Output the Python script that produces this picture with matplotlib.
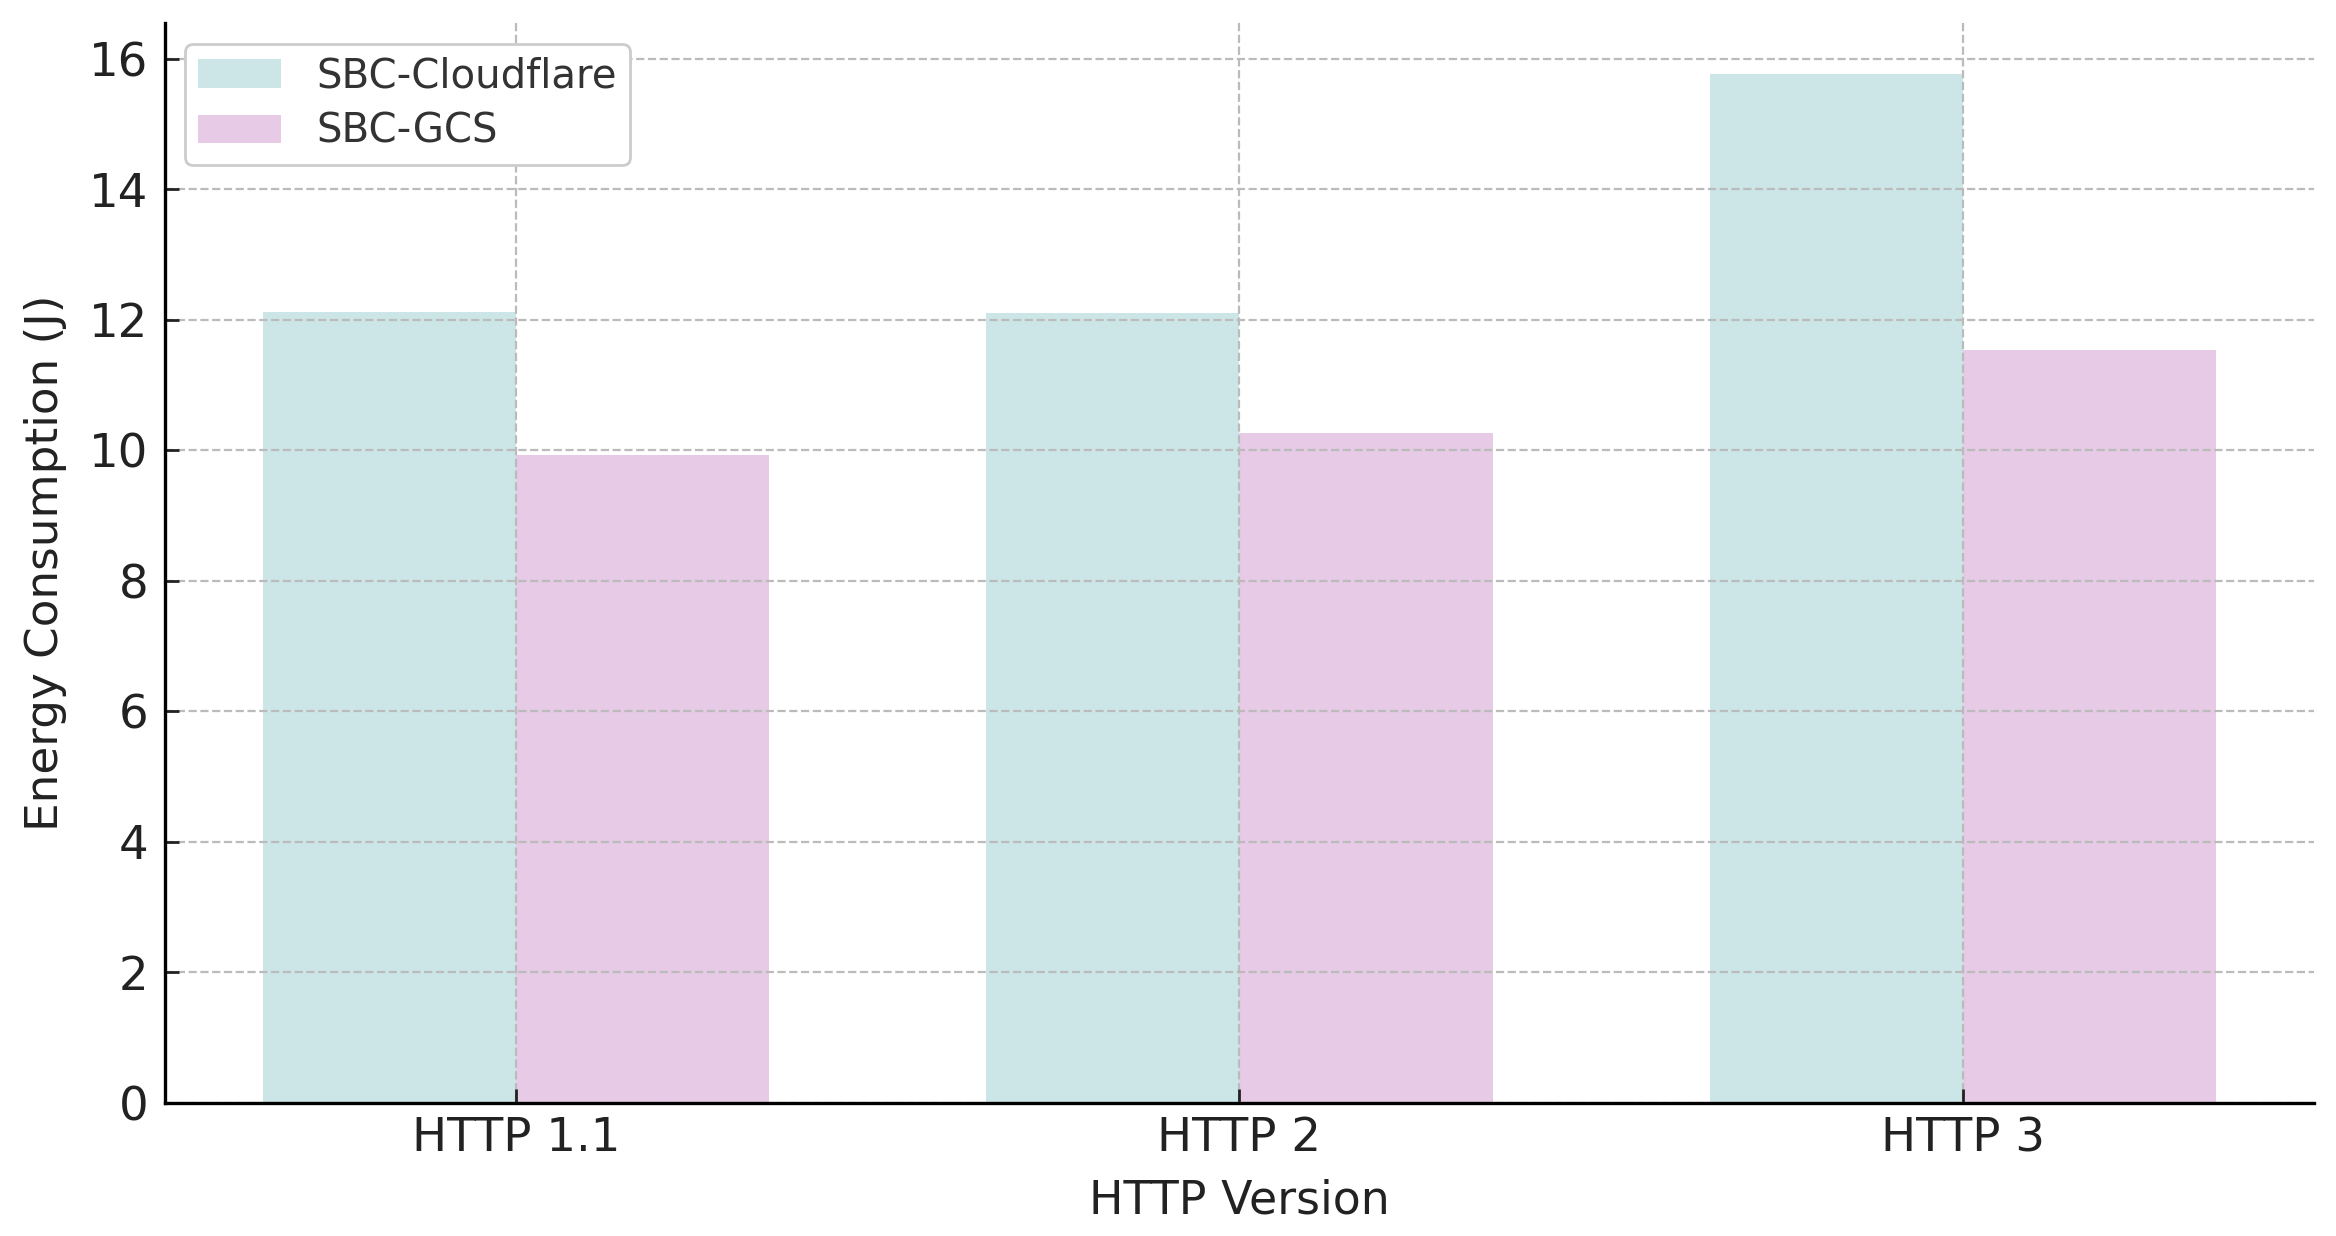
import numpy as np
import matplotlib
matplotlib.use("Agg")
import matplotlib.pyplot as plt

# dane
versions = ["HTTP 1.1", "HTTP 2", "HTTP 3"]
cloudflare = [12.12, 12.10, 15.77]
gcs = [9.92, 10.27, 11.54]

COL_CF = "#cce6e8"
COL_GCS = "#e6cae6"

fig, ax = plt.subplots(figsize=(11.68, 6.18), dpi=200)

x = np.arange(len(versions))
w = 0.35
ax.bar(x - w / 2, cloudflare, w, color=COL_CF, label="SBC-Cloudflare")
ax.bar(x + w / 2, gcs, w, color=COL_GCS, label="SBC-GCS")

ax.set_xticks(x)
ax.set_xticklabels(versions)
ax.set_yticks(np.arange(0, 17, 2))
ax.set_ylim(0, 16.54)

ax.set_xlabel("HTTP Version", fontsize=16.5, color="#222222", labelpad=6)
ax.set_ylabel("Energy Consumption (J)", fontsize=16.3, color="#222222",
              labelpad=8)
ax.tick_params(axis="both", labelsize=16.8, direction="in", length=5,
               width=1.0, colors="#222222")
ax.tick_params(axis="y", pad=6)
ax.tick_params(axis="x", pad=5)

ax.grid(True, linestyle="--", color="#bbbbbb", linewidth=0.8)
ax.spines["top"].set_visible(False)
ax.spines["right"].set_visible(False)
ax.spines["left"].set_linewidth(1.2)
ax.spines["bottom"].set_linewidth(1.2)

leg = ax.legend(loc="upper left", fontsize=14.5, handlelength=2.05,
                handletextpad=0.9, borderpad=0.32, labelspacing=0.38,
                framealpha=1, edgecolor="#cccccc", fancybox=True)
for t in leg.get_texts():
    t.set_color("#333333")

plt.subplots_adjust(left=0.0706, right=0.9906, top=0.981, bottom=0.108)
plt.savefig("out.png", dpi=200)
